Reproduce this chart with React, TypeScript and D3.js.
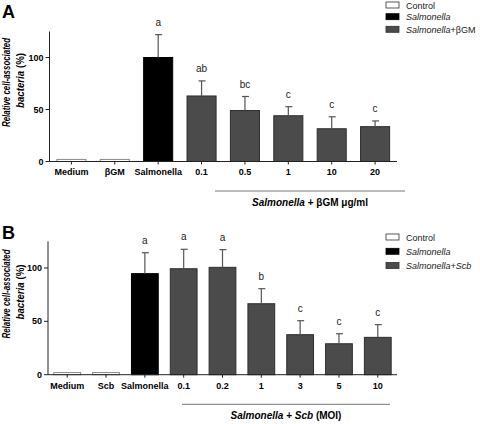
import React from "react";
import * as d3 from "d3";

// ---- Panel A data ----
const catsA = ["Medium", "βGM", "Salmonella", "0.1", "0.5", "1", "10", "20"];
const valsA = [2, 2, 100, 63, 49, 44, 31.5, 33.5];
const errA = [0, 0, 22, 14.5, 13.5, 8.7, 11.5, 5.5];
const groupA = ["control", "control", "salm", "treat", "treat", "treat", "treat", "treat"];
const lettersA = ["", "", "a", "ab", "bc", "c", "c", "c"];

// ---- Panel B data ----
const catsB = ["Medium", "Scb", "Salmonella", "0.1", "0.2", "1", "3", "5", "10"];
const valsB = [2, 2, 94.7, 99.3, 100.6, 66.5, 37.5, 29, 35];
const errB = [0, 0, 19.6, 18.2, 16.6, 14.1, 13.1, 9.4, 11.9];
const groupB = ["control", "control", "salm", "treat", "treat", "treat", "treat", "treat", "treat"];
const lettersB = ["", "", "a", "a", "a", "b", "c", "c", "c"];

const yTicks = [0, 50, 100];

const FILL: Record<string, string> = { control: "#ffffff", salm: "#000000", treat: "#4b4b4b" };
const STROKE: Record<string, string> = { control: "#8a8a8a", salm: "#000000", treat: "#2e2e2e" };
const FONT = "'Liberation Sans', Arial, sans-serif";

type PanelProps = {
  label: string;
  cats: string[];
  vals: number[];
  errs: number[];
  groups: string[];
  letters: string[];
  axisX: number;
  y0: number;
  yTop: number;
  xEnd: number;
  padInner: number;
  padOuter: number;
  bracket: [number, number, number];
  bracketText: React.ReactNode;
  bracketTextY: number;
  legendY: number[];
  legendLabels: React.ReactNode[];
  catLabelY: number;
  labelY: number;
};

function Panel(p: PanelProps) {
  const y = d3.scaleLinear().domain([0, 125]).range([p.y0, p.yTop]);
  const x = d3.scaleBand<string>().domain(p.cats).range([p.axisX, p.xEnd]).paddingInner(p.padInner).paddingOuter(p.padOuter);
  const bw = x.bandwidth();
  const legendGroups = ["control", "salm", "treat"];
  const ylc = (p.y0 + p.yTop) / 2 - 14;
  return (
    <g>
      <text x={2} y={p.labelY} fontFamily={FONT} fontWeight="bold" fontSize={18}>{p.label}</text>
      {/* y axis label */}
      <text transform={`translate(10,${ylc}) rotate(-90)`} textAnchor="middle" fontFamily={FONT} fontWeight="bold" fontStyle="italic" fontSize={10} textLength={89} lengthAdjust="spacingAndGlyphs">Relative cell-associated</text>
      <text transform={`translate(24,${ylc - 2}) rotate(-90)`} textAnchor="middle" fontFamily={FONT} fontWeight="bold" fontSize={10} textLength={55} lengthAdjust="spacingAndGlyphs">
        <tspan fontStyle="italic">bacteria</tspan>{"  (%)"}
      </text>
      {/* y axis */}
      <line x1={p.axisX} x2={p.axisX} y1={p.y0} y2={p.yTop} stroke="#222" strokeWidth={1} />
      {yTicks.map((t) => (
        <g key={t}>
          <line x1={p.axisX - 4} x2={p.axisX} y1={y(t)} y2={y(t)} stroke="#222" />
          <text x={p.axisX - 6} y={y(t) + 3} textAnchor="end" fontFamily={FONT} fontWeight="bold" fontSize={9}>{t}</text>
        </g>
      ))}
      {/* bars */}
      {p.cats.map((c, i) => {
        const bx = x(c)!;
        const cx = bx + bw / 2;
        const top = y(p.vals[i]);
        const et = y(p.vals[i] + p.errs[i]);
        return (
          <g key={c}>
            <rect x={bx} y={top} width={bw} height={p.y0 - top} fill={FILL[p.groups[i]]} stroke={STROKE[p.groups[i]]} strokeWidth={1} />
            {p.errs[i] > 0 && (
              <g stroke="#555" strokeWidth={1.2}>
                <line x1={cx} x2={cx} y1={top} y2={et} />
                <line x1={cx - 3} x2={cx + 4} y1={et} y2={et} />
              </g>
            )}
            {p.letters[i] && (
              <text x={cx} y={et - 9} textAnchor="middle" fontFamily={FONT} fontSize={10} fill="#222">{p.letters[i]}</text>
            )}
            <line x1={cx} x2={cx} y1={p.y0} y2={p.y0 + 3} stroke="#222" />
            <text x={cx} y={p.catLabelY} textAnchor="middle" fontFamily={FONT} fontWeight="bold" fontSize={9}>{c}</text>
          </g>
        );
      })}
      {/* x axis */}
      <line x1={p.axisX} x2={p.xEnd} y1={p.y0} y2={p.y0} stroke="#222" strokeWidth={1} />
      {/* bracket */}
      <line x1={p.bracket[0]} x2={p.bracket[1]} y1={p.bracket[2]} y2={p.bracket[2]} stroke="#777" strokeWidth={1} />
      <text x={(p.bracket[0] + p.bracket[1]) / 2} y={p.bracketTextY} textAnchor="middle" fontFamily={FONT} fontWeight="bold" fontSize={10}>{p.bracketText}</text>
      {/* legend */}
      {legendGroups.map((g, i) => (
        <g key={g}>
          <rect x={386} y={p.legendY[i] - 3} width={13} height={6} fill={FILL[g]} stroke={g === "control" ? "#333" : STROKE[g]} strokeWidth={0.8} />
          <text x={406} y={p.legendY[i] + 3.5} fontFamily={FONT} fontSize={9} fill="#222">{p.legendLabels[i]}</text>
        </g>
      ))}
    </g>
  );
}

export default function App() {
  return (
    <svg width={480} height={424} style={{ position: "absolute", left: 0, top: 0, background: "#fff" }}>
      <Panel
        label="A"
        cats={catsA}
        vals={valsA}
        errs={errA}
        groups={groupA}
        letters={lettersA}
        axisX={49.5}
        y0={161.5}
        yTop={31.5}
        xEnd={397}
        padInner={0.33}
        padOuter={0.17}
        bracket={[215, 405, 191]}
        bracketText={<><tspan fontStyle="italic">Salmonella</tspan> + βGM μg/ml</>}
        bracketTextY={206}
        legendY={[5, 16.7, 29.3]}
        legendLabels={["Control", <tspan fontStyle="italic">Salmonella</tspan>, <><tspan fontStyle="italic">Salmonella</tspan>+βGM</>]}
        catLabelY={175}
        labelY={18}
      />
      <Panel
        label="B"
        cats={catsB}
        vals={valsB}
        errs={errB}
        groups={groupB}
        letters={lettersB}
        axisX={48}
        y0={374.7}
        yTop={241.3}
        xEnd={397}
        padInner={0.31}
        padOuter={0.15}
        bracket={[182, 390, 404.3]}
        bracketText={<><tspan fontStyle="italic">Salmonella</tspan> + <tspan fontStyle="italic">Scb</tspan> (MOI)</>}
        bracketTextY={419}
        legendY={[237, 251.3, 265.5]}
        legendLabels={["Control", <tspan fontStyle="italic">Salmonella</tspan>, <tspan fontStyle="italic">Salmonella+Scb</tspan>]}
        catLabelY={389}
        labelY={239}
      />
    </svg>
  );
}
